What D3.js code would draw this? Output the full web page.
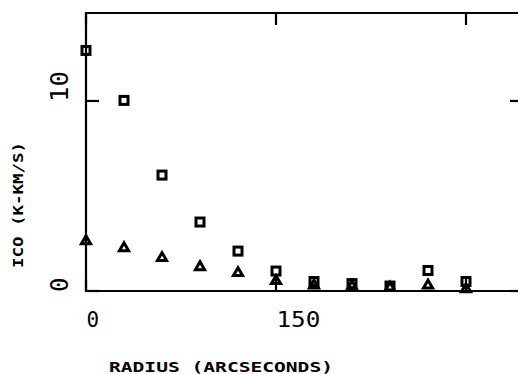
<!DOCTYPE html>
<html><head><meta charset="utf-8">
<script src="https://cdn.jsdelivr.net/npm/d3@7"></script>
<style>body{margin:0;background:#fff}svg{display:block}</style>
</head><body>
<svg id="c" width="518" height="374"></svg>
<script>
const radius = [0, 30, 60, 90, 120, 150, 180, 210, 240, 270, 300];
const squareSeries = [12.66, 10.03, 6.1, 3.63, 2.1, 1.05, 0.5, 0.39, 0.26, 1.08, 0.5];
const triangleSeries = [2.63, 2.26, 1.74, 1.26, 0.95, 0.53, 0.3, 0.25, 0.18, 0.29, 0.1];
const xTicks = [0, 150, 300];
const xTickLabels = ["0", "150"];
const yTicks = [0, 10];
const yTickLabels = ["0", "10"];
const xTitle = "RADIUS (ARCSECONDS)";
const yTitle = "ICO (K-KM/S)";

const svg = d3.select("#c");
const x = d3.scaleLinear().domain([0, 345]).range([86, 523]);
const y = d3.scaleLinear().domain([0, 14.63]).range([291, 13]);
const ink = "#000";
const mono = "'DejaVu Sans Mono', 'Liberation Mono', monospace";

// frame
const [x0, x1] = x.range(), [y0, y1] = y.range();
svg.append("path")
  .attr("d", `M${x0},${y0}L${x0},${y1}L${x1},${y1}L${x1},${y0}Z`)
  .attr("fill", "none").attr("stroke", ink).attr("stroke-width", 2.2);

// ticks
const tl = 12;
xTicks.forEach(v => {
  svg.append("line").attr("x1", x(v)).attr("x2", x(v)).attr("y1", y0).attr("y2", y0 - tl)
    .attr("stroke", ink).attr("stroke-width", 2.2);
  svg.append("line").attr("x1", x(v)).attr("x2", x(v)).attr("y1", y1).attr("y2", y1 + tl)
    .attr("stroke", ink).attr("stroke-width", 2.2);
});
yTicks.forEach(v => {
  svg.append("line").attr("x1", x0).attr("x2", x0 + 13).attr("y1", y(v)).attr("y2", y(v))
    .attr("stroke", ink).attr("stroke-width", 2.2);
  svg.append("line").attr("x1", x1).attr("x2", x1 - 13).attr("y1", y(v)).attr("y2", y(v))
    .attr("stroke", ink).attr("stroke-width", 2.2);
});

// x tick labels
xTickLabels.forEach((t, i) => {
  svg.append("text").attr("x", x(xTicks[i]) + 0.5).attr("y", 327)
    .attr("font-family", mono).attr("font-size", 20.5).attr("fill", ink)
    .attr("textLength", t.length * 15.6 - 3).attr("lengthAdjust", "spacingAndGlyphs")
    .text(t);
});
// y tick labels (rotated)
yTickLabels.forEach((t, i) => {
  const ty = y(yTicks[i]) + 1;
  svg.append("text").attr("transform", `translate(68,${ty}) rotate(-90)`)
    .attr("font-family", mono).attr("font-size", 24).attr("fill", ink)
    .attr("textLength", t.length * 16.5 - 2).attr("lengthAdjust", "spacingAndGlyphs")
    .text(t);
});

// titles
svg.append("text").attr("x", 109).attr("y", 372)
  .attr("font-family", mono).attr("font-size", 14).attr("font-weight", "bold").attr("fill", ink)
  .attr("textLength", 224).attr("lengthAdjust", "spacingAndGlyphs").text(xTitle);
svg.append("text").attr("transform", "translate(23,268) rotate(-90)")
  .attr("font-family", mono).attr("font-size", 14).attr("font-weight", "bold").attr("fill", ink)
  .attr("textLength", 126).attr("lengthAdjust", "spacingAndGlyphs").text(yTitle);

// markers
const sq = 8;
svg.append("g").selectAll("rect").data(radius.map((r, i) => [r, squareSeries[i]])).join("rect")
  .attr("x", d => x(d[0]) - sq / 2).attr("y", d => y(d[1]) - sq / 2)
  .attr("width", sq).attr("height", sq)
  .attr("fill", "none").attr("stroke", ink).attr("stroke-width", 3);

const tri = d3.symbol().type(d3.symbolTriangle).size(36);
svg.append("g").selectAll("path").data(radius.map((r, i) => [r, triangleSeries[i]])).join("path")
  .attr("transform", d => `translate(${x(d[0])},${y(d[1])})`)
  .attr("d", tri)
  .attr("fill", "none").attr("stroke", ink).attr("stroke-width", 3).attr("stroke-linejoin", "miter");
</script>
</body></html>
